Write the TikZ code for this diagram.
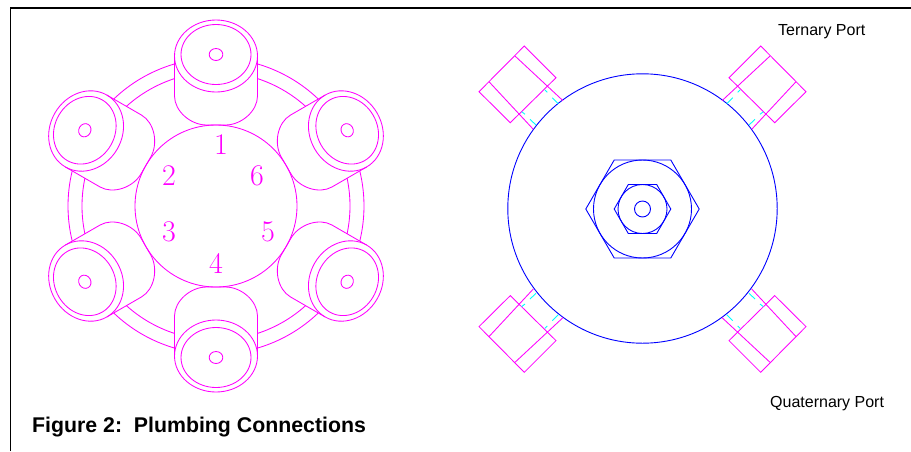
\documentclass[tikz,border=0pt]{standalone}
\usepackage{fontspec}
\setmainfont{Liberation Sans}
\newfontfamily\numfont{Latin Modern Roman}
\definecolor{pmag}{RGB}{255,0,255}
\definecolor{pblu}{RGB}{0,0,255}
\definecolor{pcya}{RGB}{0,255,255}
\tikzset{
  mg/.style={draw=pmag,line width=0.85pt},
  bl/.style={draw=pblu,line width=0.9pt},
  cy/.style={draw=pcya,line width=0.9pt},
  frameline/.style={draw=black,line width=1.5pt},
  num/.style={text=pmag,font=\numfont\fontsize{30}{30}\selectfont,inner sep=0pt},
  lbl/.style={text=black,font=\fontsize{16}{18}\selectfont,inner sep=0pt}
}
\begin{document}
\begin{tikzpicture}[x=1pt,y=-1pt]
\useasboundingbox (0,0) rectangle (911,451);
\fill[white] (0,0) rectangle (911,451);
% frame
\draw[frameline] (10.5,451) -- (10.5,8) -- (911,8);
% left figure
\draw[mg] (216,206) circle [radius=81];
\foreach \k in {0,...,5}{
  \begin{scope}[rotate around={\k*60:(216,206)}]
    \draw[mg] (216,56) ellipse [x radius=41.5,y radius=36];
    \draw[mg] (216,54.5) ellipse [x radius=35,y radius=30];
    \draw[mg] (216,54.5) ellipse [x radius=6.8,y radius=6];
    \draw[mg] (174.5,56) -- (174.5,96) .. controls (174.5,111) and (190.5,125) .. (206.5,125)
      -- (225.5,125) .. controls (241.5,125) and (257.5,111) .. (257.5,96) -- (257.5,56);
    \draw[mg] (216,206) ++(-73.7:148) arc [start angle=-73.7,end angle=-46.3,radius=148];
    \draw[mg] (216,206) ++(-72:134) arc [start angle=-72,end angle=-48,radius=134];
  \end{scope}
}
\node[num] (n1) at (221,145) {1};
\node[num] (n2) at (169,176) {2};
\node[num] (n3) at (169,232) {3};
\node[num] (n4) at (216,263) {4};
\node[num] (n5) at (268,232) {5};
\node[num] (n6) at (257,176) {6};
% right figure
\draw[bl] (642.5,208.5) circle [radius=134.7];
\draw[bl] (642.5,209) circle [radius=49];
\draw[bl] (642.5,209) circle [radius=24.5];
\draw[bl] (642.5,209) circle [radius=8];
\draw[bl] (585.8,209) -- (614.2,160) -- (670.8,160) -- (699.2,209) -- (670.8,258) -- (614.2,258) -- cycle;
\draw[bl] (614.2,209) -- (628.3,184.5) -- (656.7,184.5) -- (670.8,209) -- (656.7,233.5) -- (628.3,233.5) -- cycle;
\foreach \tx/\sx/\ty/\sy in {0/1/0/1,1285/-1/0/1,0/1/418.3/-1,1285/-1/418.3/-1}{
  \begin{scope}[shift={(\tx,\ty)},xscale=\sx,yscale=\sy]
    \draw[mg] (524.3,46) -- (556,77.7) -- (510.3,122.7) -- (479,91.7) -- cycle;
    \draw[mg] (515,56) -- (563,100.7);
    \draw[mg] (489,81.7) -- (533.3,129.3);
    \draw[cy] (545,90) -- (547.3,92.3);
    \draw[cy] (552.3,97.7) -- (558.3,103.7);
    \draw[cy] (521.7,111.7) -- (525,114.3);
    \draw[cy] (530,119.3) -- (536,125);
  \end{scope}
}
% texts
\node[lbl,anchor=base west] (ternary) at (778,35) {Ternary Port};
\node[lbl,anchor=base west] (quaternary) at (770,407) {Quaternary Port};
\node[anchor=base west,inner sep=0pt,font=\bfseries\fontsize{21.3}{24}\selectfont] (caption) at (32,432) {Figure 2:\ \ Plumbing Connections};
\end{tikzpicture}
\end{document}
